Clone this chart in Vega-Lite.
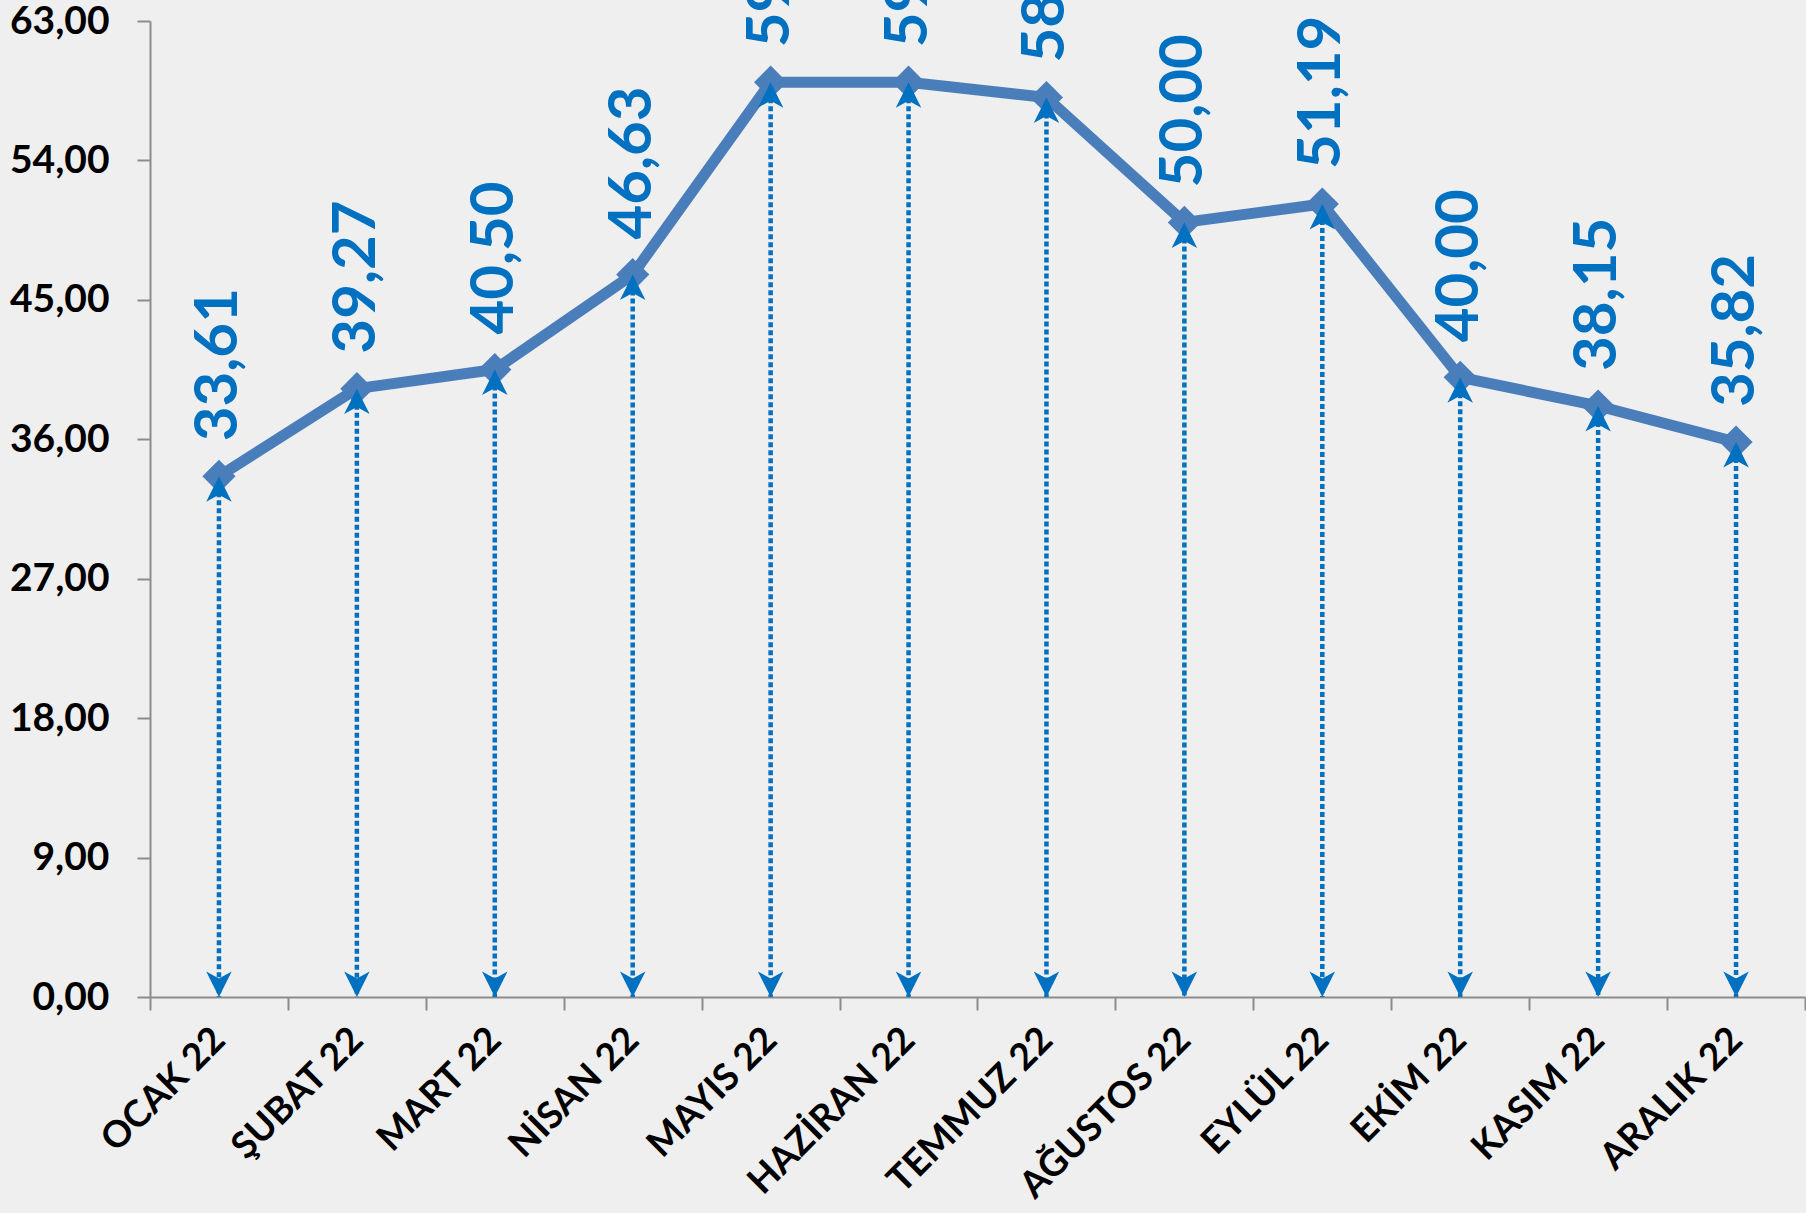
{
  "$schema": "https://vega.github.io/schema/vega-lite/v6.json",
  "autosize": {"type": "none"},
  "width": 1655,
  "height": 976,
  "padding": {"left": 150, "top": 21, "right": 1, "bottom": 216},
  "background": "#efefef",
  "config": {
    "view": {"stroke": null},
    "font": "Lato",
    "locale": {"number": {"decimal": ",", "thousands": ".", "grouping": [3], "currency": ["", " TL"]}}
  },
  "data": {
    "values": [
      {"ay": "OCAK 22", "v": 33.61},
      {"ay": "ŞUBAT 22", "v": 39.27},
      {"ay": "MART 22", "v": 40.50},
      {"ay": "NİSAN 22", "v": 46.63},
      {"ay": "MAYIS 22", "v": 59.05},
      {"ay": "HAZİRAN 22", "v": 59.05},
      {"ay": "TEMMUZ 22", "v": 58.06},
      {"ay": "AĞUSTOS 22", "v": 50.00},
      {"ay": "EYLÜL 22", "v": 51.19},
      {"ay": "EKİM 22", "v": 40.00},
      {"ay": "KASIM 22", "v": 38.15},
      {"ay": "ARALIK 22", "v": 35.82}
    ]
  },
  "encoding": {
    "x": {
      "field": "ay",
      "type": "nominal",
      "sort": null,
      "scale": {"paddingInner": 0, "paddingOuter": 0},
      "axis": {
        "title": null,
        "labelAngle": -45,
        "labelAlign": "right",
        "labelBaseline": "middle",
        "labelFont": "Lato",
        "labelFontWeight": "bold",
        "labelFontSize": 37,
        "labelColor": "#000000",
        "labelPadding": 24,
        "labelLimit": 0,
        "labelOverlap": false,
        "domainColor": "#8c8c8c",
        "domainWidth": 2,
        "tickColor": "#8c8c8c",
        "tickWidth": 2,
        "tickSize": 13,
        "tickBand": "extent"
      }
    }
  },
  "layer": [
    {
      "mark": {"type": "rule", "color": "#0070C0", "strokeWidth": 4.5, "strokeDash": [5, 3]},
      "encoding": {
        "y": {
          "field": "v",
          "type": "quantitative",
          "scale": {"domain": [0, 63], "nice": false, "zero": true},
          "axis": {
            "title": null,
            "grid": false,
            "values": [0, 9, 18, 27, 36, 45, 54, 63],
            "format": ".2f",
            "labelFont": "Lato",
            "labelFontWeight": "bold",
            "labelFontSize": 39,
            "labelColor": "#000000",
            "labelPadding": 28,
            "domainColor": "#8c8c8c",
            "domainWidth": 2,
            "tickColor": "#8c8c8c",
            "tickWidth": 2,
            "tickSize": 13
          }
        },
        "y2": {"datum": 0}
      }
    },
    {
      "mark": {"type": "line", "color": "#4A7EBB", "strokeWidth": 11, "strokeJoin": "round"},
      "encoding": {"y": {"field": "v", "type": "quantitative"}}
    },
    {
      "mark": {"type": "point", "shape": "diamond", "filled": true, "size": 1100, "color": "#4A7EBB", "opacity": 1},
      "encoding": {"y": {"field": "v", "type": "quantitative"}}
    },
    {
      "mark": {"type": "point", "shape": "M0,0 L-1,2 L0,1.45 L1,2 Z", "filled": true, "size": 650, "color": "#0070C0", "opacity": 1},
      "encoding": {"y": {"field": "v", "type": "quantitative"}}
    },
    {
      "mark": {"type": "point", "shape": "M0,0 L-1,-2 L0,-1.45 L1,-2 Z", "filled": true, "size": 650, "color": "#0070C0", "opacity": 1},
      "encoding": {"y": {"datum": 0}}
    },
    {
      "mark": {"type": "text", "angle": 270, "align": "left", "baseline": "middle", "dx": 35, "font": "Lato", "fontWeight": "bold", "fontSize": 60, "color": "#0070C0"},
      "encoding": {
        "y": {"field": "v", "type": "quantitative"},
        "text": {"field": "v", "type": "quantitative", "format": ".2f"}
      }
    }
  ]
}
